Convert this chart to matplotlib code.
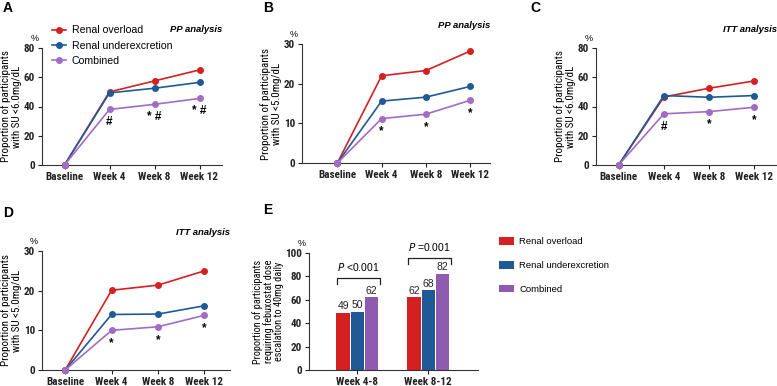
import matplotlib
matplotlib.use("Agg")
import matplotlib.pyplot as plt
from matplotlib import font_manager
import numpy as np

plt.rcParams["font.family"] = ["Liberation Sans", "DejaVu Sans"]

# narrow face for axis titles and tick labels, if one is installed
_installed = {f.name for f in font_manager.fontManager.ttflist}
NARROW = next((n for n in ["Liberation Sans Narrow", "Arial Narrow", "Roboto Condensed",
                           "Open Sans Condensed"] if n in _installed), "Liberation Sans")

W, H = 777, 386

weeks = ["Baseline", "Week 4", "Week 8", "Week 12"]
series = ["Renal overload", "Renal underexcretion", "Combined"]
colors = ["#d42020", "#1f5a96", "#a26cc4"]
bar_colors = ["#d42020", "#1f5a96", "#8e5bb0"]

# A: PP, SU < 6.0
pp6_overload = [0, 50, 57.5, 65]
pp6_under = [0, 49.3, 52.5, 56.5]
pp6_combined = [0, 38, 41.5, 45.5]
pp6_marks = ["", "#", "* #", "* #"]

# B: PP, SU < 5.0
pp5_overload = [0, 22, 23.3, 28.2]
pp5_under = [0, 15.6, 16.6, 19.3]
pp5_combined = [0, 11.2, 12.3, 15.8]
pp5_marks = ["", "*", "*", "*"]

# C: ITT, SU < 6.0
itt6_overload = [0, 46.5, 52.5, 57.5]
itt6_under = [0, 47.5, 46.3, 47.5]
itt6_combined = [0, 35, 36.5, 39.5]
itt6_marks = ["", "#", "*", "*"]

# D: ITT, SU < 5.0
itt5_overload = [0, 20.1, 21.4, 25]
itt5_under = [0, 14, 14.1, 16.2]
itt5_combined = [0, 10, 10.9, 13.8]
itt5_marks = ["", "*", "*", "*"]

# E: dose escalation
periods = ["Week 4-8", "Week 8-12"]
esc_overload = [49, 62]
esc_under = [50, 68]
esc_combined = [62, 82]
p_texts = ["<0.001", "=0.001"]

fig = plt.figure(figsize=(W / 100, H / 100), dpi=100)


def px_axes(left, top, right, bottom):
    return fig.add_axes([left / W, 1 - bottom / H, (right - left) / W, (bottom - top) / H])


def style(ax):
    for s in ["top", "right"]:
        ax.spines[s].set_visible(False)
    for s in ["left", "bottom"]:
        ax.spines[s].set_linewidth(0.8)
        ax.spines[s].set_color("#333333")
    ax.tick_params(length=3, width=0.8, labelsize=8, pad=2, colors="#222222")
    for lab in ax.get_xticklabels() + ax.get_yticklabels():
        lab.set_fontweight("bold")
        lab.set_family([NARROW, "DejaVu Sans"])


def line_panel(box, xlim, ymax, ystep, data, marks, ylabel, tag, letter, letter_xy, legend=False):
    ax = px_axes(*box)
    x = np.arange(len(weeks))
    for vals, c, name in zip(data, colors, series):
        ax.plot(x, vals, "-o", color=c, lw=1.2, ms=4, label=name, clip_on=False, zorder=3)
    ax.set_xlim(*xlim)
    ax.set_ylim(0, ymax)
    ax.set_yticks(np.arange(0, ymax + 1, ystep))
    ax.set_xticks(x)
    ax.set_xticklabels(weeks)
    style(ax)
    ax.set_ylabel(ylabel, fontsize=7.9, labelpad=1.5, linespacing=1.15, family=[NARROW, "DejaVu Sans"])
    ax.text(-0.02, 1.04, "%", transform=ax.transAxes, fontsize=6.5, ha="right", va="bottom")
    ax.text(1.0, 1.12, tag, transform=ax.transAxes, fontsize=6.8, fontweight="bold",
            fontstyle="italic", ha="right", va="bottom")
    for xi, (yv, m) in enumerate(zip(data[2], marks)):
        if m:
            ax.annotate(m, (xi, yv), xytext=(0, -5), textcoords="offset points",
                        ha="center", va="top", fontsize=8.5, fontweight="bold")
    fig.text(letter_xy[0] / W, 1 - letter_xy[1] / H, letter, fontsize=10, fontweight="bold",
             ha="left", va="center")
    if legend:
        ax.legend(loc="upper left", bbox_to_anchor=(0.03, 1.23), frameon=False, fontsize=7.6,
                  handlelength=1.4, handletextpad=0.5, borderaxespad=0, labelspacing=0.5)
    return ax


lab6 = "Proportion of participants\nwith SU <6.0mg/dL"
lab5 = "Proportion of participants\nwith SU <5.0mg/dL"

line_panel((42, 48, 222, 165), (-0.5, 3.5), 80, 20, [pp6_overload, pp6_under, pp6_combined],
           pp6_marks, lab6, "PP analysis", "A", (3, 8), legend=True)
line_panel((302, 44, 490, 163), (-0.8, 3.45), 30, 10, [pp5_overload, pp5_under, pp5_combined],
           pp5_marks, lab5, "PP analysis", "B", (263, 8))
line_panel((596, 48, 777, 165), (-0.5, 3.5), 80, 20, [itt6_overload, itt6_under, itt6_combined],
           itt6_marks, lab6, "ITT analysis", "C", (530, 8))
line_panel((42, 251, 230, 370), (-0.5, 3.55), 30, 10, [itt5_overload, itt5_under, itt5_combined],
           itt5_marks, lab5, "ITT analysis", "D", (3, 213))

# E: bars
ax = px_axes(309, 253, 478, 370)
x = np.arange(len(periods))
w = 0.19
for i, (vals, c, name) in enumerate(zip([esc_overload, esc_under, esc_combined], bar_colors, series)):
    pos = x + (i - 1) * 0.2
    ax.bar(pos, vals, w, color=c, label=name)
    for p, v in zip(pos, vals):
        ax.text(p, v + 1.5, f"{v}", ha="center", va="bottom", fontsize=7.5, color="#222222")
ax.set_xlim(-0.68, 1.7)
ax.set_ylim(0, 100)
ax.set_yticks(np.arange(0, 101, 20))
ax.set_xticks(x)
ax.set_xticklabels(periods)
style(ax)
ax.set_ylabel("Proportion of participants\nrequiring febuxostat dose\nescalation to 40mg daily",
              fontsize=7.4, labelpad=1, linespacing=1.0, family=[NARROW, "DejaVu Sans"])
ax.text(-0.02, 1.04, "%", transform=ax.transAxes, fontsize=6.5, ha="right", va="bottom")
for xi, top, pt in zip(x, [78.5, 96], p_texts):
    l, r = xi - 0.28, xi + 0.32
    ax.plot([l, l, r, r], [top - 5, top, top, top - 5], color="#222222", lw=0.9, clip_on=False)
    ax.text((l + r) / 2, top + 4, f"$\\it{{P}}$ {pt}", ha="center", va="bottom", fontsize=7.5)
ax.legend(loc="upper left", bbox_to_anchor=(1.1, 1.17), frameon=False, fontsize=6.8,
          handlelength=1.6, handleheight=0.9, handletextpad=0.6, labelspacing=1.55,
          borderaxespad=0)
fig.text(263 / W, 1 - 210 / H, "E", fontsize=10, fontweight="bold", ha="left", va="center")

fig.savefig("out.png", dpi=100)
